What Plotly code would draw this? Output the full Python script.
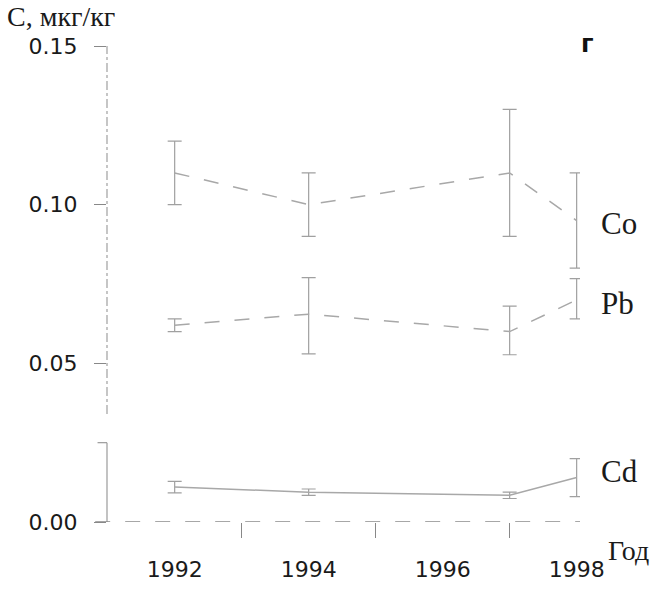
import plotly.graph_objects as go

# ---- data ----
co_years = [1992, 1994, 1997, 1998]
co_vals = [0.110, 0.100, 0.110, 0.095]
co_err_plus = [0.010, 0.010, 0.020, 0.015]
co_err_minus = [0.010, 0.010, 0.020, 0.015]

pb_years = [1992, 1994, 1997, 1998]
pb_vals = [0.062, 0.0655, 0.060, 0.070]
pb_err_plus = [0.002, 0.0115, 0.008, 0.0067]
pb_err_minus = [0.002, 0.0125, 0.0073, 0.006]

cd_years = [1992, 1994, 1997, 1998]
cd_vals = [0.011, 0.0094, 0.0084, 0.014]
cd_err_plus = [0.0018, 0.001, 0.001, 0.006]
cd_err_minus = [0.0018, 0.001, 0.001, 0.006]

x_tick_vals = [1992, 1994, 1996, 1998]
x_tick_text = ["1992", "1994", "1996", "1998"]
x_minor_ticks = [1993, 1995, 1997]
y_tick_vals = [0.00, 0.05, 0.10, 0.15]
y_tick_text = ["0.00", "0.05", "0.10", "0.15"]

series_labels = ["Co", "Pb", "Cd"]

LINE = "#a8a8a8"
ERR = "#a0a0a0"

fig = go.Figure()


def add_series(xs, ys, ep, em, dash):
    fig.add_trace(go.Scatter(
        x=xs, y=ys, mode="lines",
        line=dict(color=LINE, width=1.5, dash=dash),
        error_y=dict(type="data", symmetric=False, array=ep, arrayminus=em,
                     color=ERR, thickness=1.2, width=7),
        cliponaxis=False, showlegend=False, hoverinfo="x+y"))


add_series(co_years, co_vals, co_err_plus, co_err_minus, "longdash")
add_series(pb_years, pb_vals, pb_err_plus, pb_err_minus, "longdash")
add_series(cd_years, cd_vals, cd_err_plus, cd_err_minus, "solid")

# axis lines (broken y axis, faint dashed look)
axis_style = dict(color="#a0a0a0", width=1.2, dash="dashdot")
fig.add_shape(type="line", xref="paper", yref="y", x0=0, x1=0, y0=0.034, y1=0.15, line=axis_style)
fig.add_shape(type="line", xref="paper", yref="y", x0=0, x1=0, y0=0.0, y1=0.025,
              line=dict(color="#9a9a9a", width=1.2))
fig.add_shape(type="line", xref="paper", yref="y", x0=-0.02, x1=0, y0=0.025, y1=0.025,
              line=dict(color="#9a9a9a", width=1.2))
fig.add_shape(type="line", xref="paper", yref="y", x0=-0.025, x1=1.0, y0=0, y1=0,
              line=dict(color="#8a8a8a", width=1.3, dash="longdash"))

fig.update_layout(
    width=657, height=594,
    margin=dict(l=107, r=77, t=46, b=67),
    paper_bgcolor="white", plot_bgcolor="white",
    font=dict(family="DejaVu Sans", color="#1a1a1a"),
    xaxis=dict(
        range=[1990.99, 1998.05], showgrid=False, zeroline=False, showline=False,
        tickmode="array", tickvals=x_tick_vals, ticktext=x_tick_text,
        ticks="", ticklabelstandoff=32,
        tickfont=dict(family="DejaVu Sans", size=22, color="#1a1a1a"),
        minor=dict(tickmode="array", tickvals=x_minor_ticks, ticks="outside",
                   ticklen=15, tickcolor="#888", tickwidth=1),
    ),
    yaxis=dict(
        range=[0, 0.15], showgrid=False, zeroline=False, showline=False,
        tickmode="array", tickvals=y_tick_vals, ticktext=y_tick_text,
        ticks="outside", ticklen=12, tickcolor="#888", tickwidth=1.2,
        ticklabelstandoff=12,
        tickfont=dict(family="DejaVu Sans", size=22, color="#1a1a1a"),
    ),
)

serif = "Liberation Serif"
ann = [
    dict(text=series_labels[0], x=1.04, y=0.627, size=31),
    dict(text=series_labels[1], x=1.04, y=0.460, size=31),
    dict(text=series_labels[2], x=1.04, y=0.106, size=31),
]
for a in ann:
    fig.add_annotation(text=a["text"], xref="paper", yref="paper", x=a["x"], y=a["y"],
                       xanchor="left", yanchor="middle", showarrow=False,
                       font=dict(family=serif, size=a["size"], color="#1a1a1a"))

fig.add_annotation(text="Год", xref="paper", yref="paper", x=1.055, y=-0.06,
                   xanchor="left", yanchor="middle", showarrow=False,
                   font=dict(family=serif, size=28, color="#1a1a1a"))
fig.add_annotation(text="C, мкг/кг", xref="paper", yref="paper", x=-0.215, y=1.062,
                   xanchor="left", yanchor="middle", showarrow=False,
                   font=dict(family=serif, size=28, color="#1a1a1a"))
fig.add_annotation(text="<b>г</b>", xref="paper", yref="paper", x=1.015, y=1.005,
                   xanchor="center", yanchor="middle", showarrow=False,
                   font=dict(family="DejaVu Sans", size=24, color="#111"))

fig.write_html("out.html")
